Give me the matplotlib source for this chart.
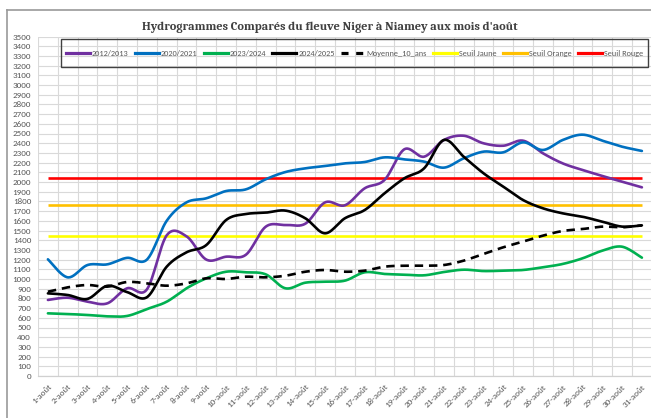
import numpy as np
import matplotlib
matplotlib.use("Agg")
import matplotlib.pyplot as plt
from matplotlib.lines import Line2D
from matplotlib.patches import Rectangle
from matplotlib import font_manager

days = list(range(1, 32))
day_labels = [f"{d}-août" for d in days]

s2012 = [784, 807, 766, 749, 904, 893, 1450, 1440, 1200, 1230, 1250, 1539, 1557, 1570, 1790, 1760,
         1935, 2021, 2337, 2261, 2433, 2477, 2399, 2374, 2426, 2296, 2192, 2124, 2062, 2003, 1945]
s2020 = [1203, 1017, 1144, 1151, 1218, 1200, 1600, 1790, 1832, 1907, 1924, 2028, 2103, 2141, 2165, 2192,
         2206, 2254, 2233, 2210, 2148, 2244, 2313, 2306, 2409, 2330, 2433, 2488, 2426, 2364, 2320]
s2023 = [646, 639, 629, 615, 619, 690, 766, 904, 1007, 1075, 1069, 1048, 904, 962, 972, 983,
         1069, 1052, 1045, 1038, 1072, 1096, 1082, 1086, 1093, 1121, 1155, 1213, 1292, 1333, 1220]
s2024 = [852, 835, 795, 930, 865, 812, 1127, 1275, 1350, 1608, 1670, 1684, 1705, 1626, 1471, 1626,
         1711, 1883, 2038, 2141, 2433, 2261, 2090, 1952, 1814, 1729, 1677, 1642, 1591, 1540, 1553]
moy10 = [869, 914, 938, 921, 969, 955, 931, 955, 1007, 1000, 1024, 1017, 1034, 1075, 1093, 1075,
         1086, 1127, 1137, 1137, 1144, 1189, 1258, 1327, 1385, 1447, 1495, 1515, 1540, 1533, 1553]
seuil_jaune = 1440
seuil_orange = 1765
seuil_rouge = 2040

y_ticks = list(range(0, 3600, 100))
title_text = "Hydrogrammes Comparés du fleuve Niger à Niamey aux mois d'août"


def smooth(x, y, n=24):
    """Excel-like smoothed line (Catmull-Rom cubic Bezier through the data points)."""
    x = np.asarray(x, float)
    y = np.asarray(y, float)
    P = np.column_stack([x, y])
    out = []
    for i in range(len(P) - 1):
        p0 = P[i - 1] if i > 0 else P[i]
        p1 = P[i]
        p2 = P[i + 1]
        p3 = P[i + 2] if i + 2 < len(P) else P[i + 1]
        c1 = p1 + (p2 - p0) / 6.0
        c2 = p2 - (p3 - p1) / 6.0
        t = np.linspace(0, 1, n, endpoint=(i == len(P) - 2))[:, None]
        b = ((1 - t) ** 3) * p1 + 3 * ((1 - t) ** 2) * t * c1 + 3 * (1 - t) * t ** 2 * c2 + t ** 3 * p2
        out.append(b)
    out = np.vstack(out)
    return out[:, 0], out[:, 1]


available = {f.name for f in font_manager.fontManager.ttflist}
sans_pref = [f for f in ["Carlito", "Liberation Sans Narrow", "Liberation Sans", "DejaVu Sans"] if f in available]
serif_pref = [f for f in ["Caladea", "Liberation Serif", "DejaVu Serif"] if f in available]

W, H = 651, 418
fig = plt.figure(figsize=(W / 100, H / 100), dpi=100)
fig.patch.set_facecolor("white")
renderer = fig.canvas.get_renderer()


def fit_size(text, family, target_px, weight="normal"):
    t = fig.text(0, 0, text, fontsize=10, family=family, fontweight=weight)
    w = t.get_window_extent(renderer).width
    t.remove()
    return 10 * target_px / w


tick_fs = fit_size("3000", sans_pref, 18.5)
leg_fs = fit_size("2012/2013", sans_pref, 37)
title_fs = fit_size(title_text, serif_pref, 374, weight="bold")

ax_left, ax_right = 38, 651.8
ax_bottom, ax_top = 376, 36.5
ax = fig.add_axes([ax_left / W, 1 - ax_bottom / H, (ax_right - ax_left) / W, (ax_bottom - ax_top) / H])

lw = 1.9
series = [
    ("2012/2013", s2012, "#7030A0"),
    ("2020/2021", s2020, "#0070C0"),
    ("2023/2024", s2023, "#00B050"),
    ("2024/2025", s2024, "#000000"),
]
thresholds = [("Seuil Jaune", seuil_jaune, "#FFFF00"),
              ("Seuil Orange", seuil_orange, "#FFC000"),
              ("Seuil Rouge", seuil_rouge, "#FF0000")]

for name, val, col in thresholds:
    ax.plot([days[0], days[-1]], [val, val], color=col, lw=lw, solid_capstyle="butt", zorder=2)

handles = []
for name, vals, col in series:
    xs, ys = smooth(days, vals)
    ax.plot(xs, ys, color=col, lw=lw, zorder=3, solid_capstyle="round")
    handles.append(Line2D([], [], color=col, lw=2.3, label=name))

xs, ys = smooth(days, moy10)
ax.plot(xs, ys, color="black", lw=lw, ls=(0, (3.2, 2.2)), zorder=3)
handles.append(Line2D([], [], color="black", lw=2.3, ls=(0, (2.2, 2.4)), label="Moyenne_10_ans"))
for name, val, col in thresholds:
    handles.append(Line2D([], [], color=col, lw=2.3, label=name))

ax.set_xlim(0.5, 31.5)
ax.set_ylim(0, 3500)
ax.set_yticks(y_ticks)
ax.set_xticks(days)
ax.set_xticks(np.arange(0.5, 32, 1.0), minor=True)
ax.grid(False)
ax.yaxis.grid(True, color="#d9d9d9", lw=0.8, zorder=0)
ax.xaxis.grid(True, which="minor", color="#d9d9d9", lw=0.8, zorder=0)
ax.set_axisbelow(True)

ax.set_yticklabels([str(v) for v in y_ticks], fontsize=tick_fs, color="#595959", family=sans_pref)
ax.set_xticklabels(day_labels, fontsize=tick_fs, color="#595959", family=sans_pref,
                   rotation=45, ha="right", va="top", rotation_mode="anchor")
ax.tick_params(axis="both", which="both", length=0)
ax.tick_params(axis="y", pad=5)
ax.tick_params(axis="x", pad=5)
for sp in ["top", "right", "left"]:
    ax.spines[sp].set_visible(False)
ax.spines["bottom"].set_color("#d0d0d0")
ax.spines["bottom"].set_linewidth(0.9)

# legend: box from x=61..648, y=39.3..66.7 px; content from x=66 to 643
lx0, lx1, ly0, ly1 = 61, 648, 39.3, 66.7
fs_px = leg_fs * 100 / 72
content_w = (lx1 - 5) - (lx0 + 5)


def make_legend(colsp):
    return fig.legend(handles=handles, loc="center left",
                      bbox_to_anchor=((lx0 + 5) / W, 1 - ((ly0 + ly1) / 2 + 0.5) / H),
                      ncol=8, prop={"family": sans_pref, "size": leg_fs},
                      frameon=False, handlelength=24 / fs_px, handletextpad=2 / fs_px,
                      columnspacing=colsp, borderaxespad=0, borderpad=0)


colsp = 6 / fs_px
leg = make_legend(colsp)
wcur = leg.get_window_extent(renderer).width
leg.remove()
colsp = max(0.1, colsp + (content_w - wcur) / 7 / fs_px)
leg = make_legend(colsp)
for t in leg.get_texts():
    t.set_color("#595959")
fig.add_artist(Rectangle((lx0 / W, 1 - ly1 / H), (lx1 - lx0) / W, (ly1 - ly0) / H,
                         transform=fig.transFigure, fill=False, edgecolor="#404040", lw=1.0))

fig.text(330 / W, 1 - 30 / H, title_text,
         ha="center", va="baseline", fontsize=title_fs, fontweight="bold", color="#404040",
         family=serif_pref)

# outer chart frame
fig.add_artist(Line2D([7 / W, 7 / W], [1 - 10 / H, 0], transform=fig.transFigure, color="#9a9a9a", lw=1.2))
fig.add_artist(Line2D([7 / W, 1], [1 - 10 / H, 1 - 10 / H], transform=fig.transFigure, color="#9a9a9a", lw=1.2))

fig.savefig("out.png", dpi=100)
